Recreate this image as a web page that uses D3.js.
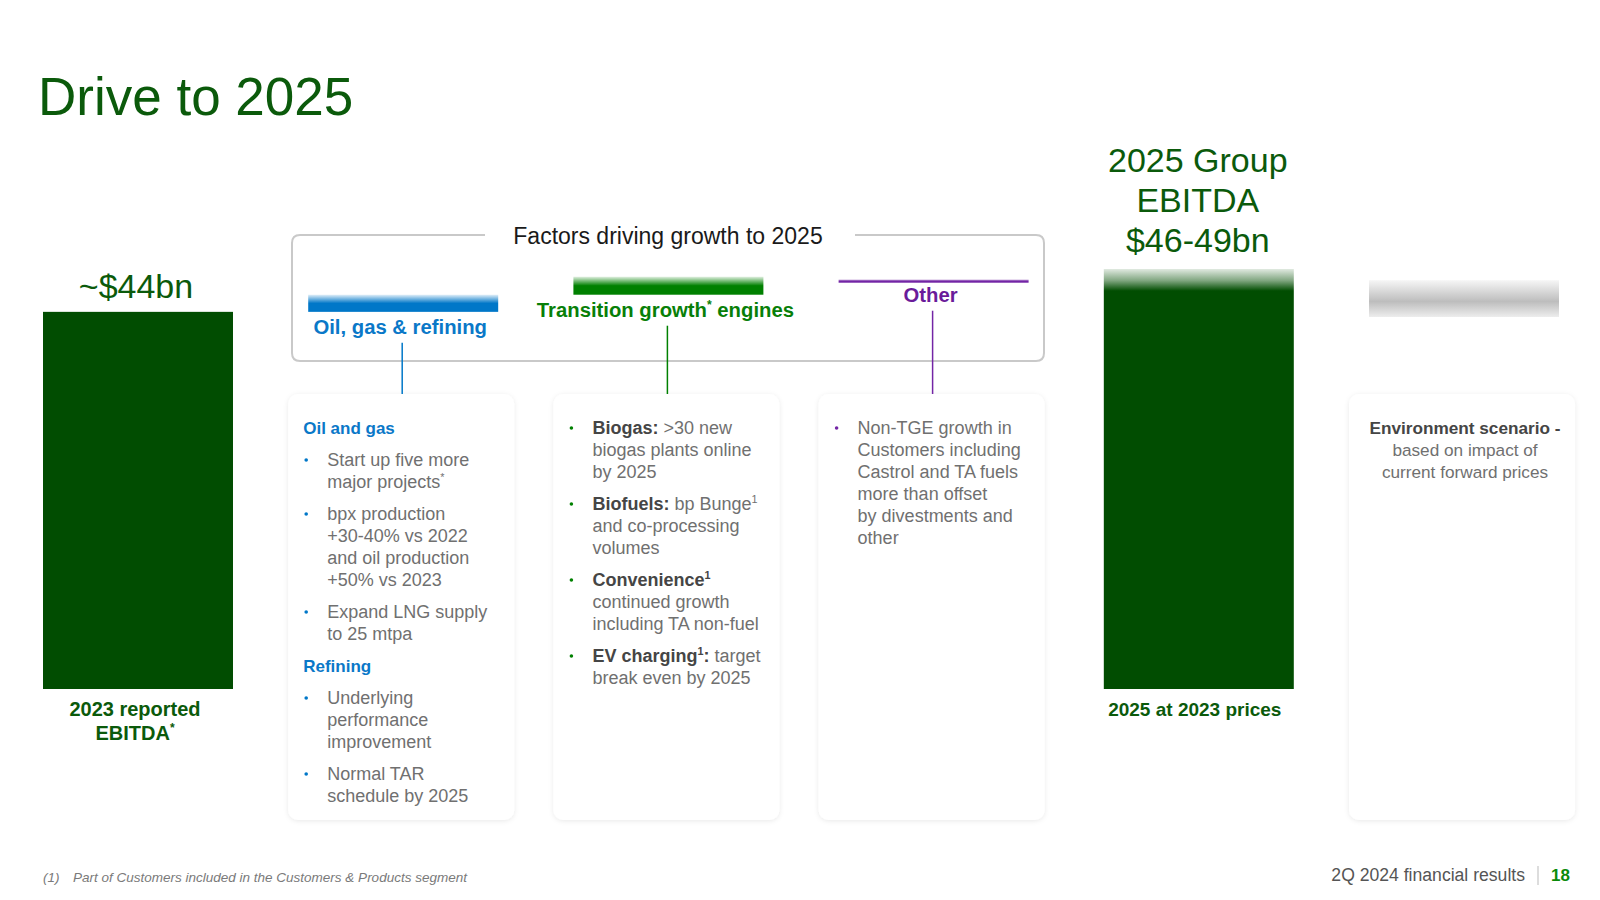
<!DOCTYPE html>
<html>
<head>
<meta charset="utf-8">
<script src="https://cdn.jsdelivr.net/npm/d3@7"></script>
<style>
  html, body { margin: 0; padding: 0; background: #fff; }
  svg text { font-family: "Liberation Sans", Arial, sans-serif; }
</style>
</head>
<body>
<div id="chart"></div>
<script>
// slide columns, left to right
const columns = ["2023", "oilGas", "tge", "other", "2025", "env"];

// EBITDA, $bn
const reported2023 = 44;
const group2025 = [46, 49];
const envScenario = [43.4, 47.7];

// waterfall steps inside the "factors" box, [from, to] in $bn
const factorCols = ["oilGas", "tge", "other"];
const factorNames = ["Oil, gas & refining", "Transition growth^*^ engines", "Other"];
const factorSteps = [[44, 46], [46, 48.1], [47.8, 47.4]];
const factorColors = ["#0077c8", "#008000", "#7325a5"];
const factorTextColors = ["#0a78c8", "#087f08", "#6a1b9a"];

const valueLabel2023 = ["~$44bn"];
const valueLabel2025 = ["2025 Group", "EBITDA", "$46-49bn"];
const barLabel2023 = ["2023 reported", "EBITDA^*^"];
const barLabel2025 = ["2025 at 2023 prices"];

// card texts (** = bold, ^ = superscript)
const cardOilGas = [
  { kind: "head", lines: ["Oil and gas"] },
  { kind: "bullet", lines: ["Start up five more", "major projects^*^"] },
  { kind: "bullet", lines: ["bpx production", "+30-40% vs 2022", "and oil production", "+50% vs 2023"] },
  { kind: "bullet", lines: ["Expand LNG supply", "to 25 mtpa"] },
  { kind: "head", lines: ["Refining"] },
  { kind: "bullet", lines: ["Underlying", "performance", "improvement"] },
  { kind: "bullet", lines: ["Normal TAR", "schedule by 2025"] }
];
const cardTge = [
  { kind: "bullet", lines: ["**Biogas:** >30 new", "biogas plants online", "by 2025"] },
  { kind: "bullet", lines: ["**Biofuels:** bp Bunge^1^", "and co-processing", "volumes"] },
  { kind: "bullet", lines: ["**Convenience^1^**", "continued growth", "including TA non-fuel"] },
  { kind: "bullet", lines: ["**EV charging^1^:** target", "break even by 2025"] }
];
const cardOther = [
  { kind: "bullet", lines: ["Non-TGE growth in", "Customers including", "Castrol and TA fuels", "more than offset", "by divestments and", "other"] }
];
const cardEnv = [
  { kind: "center", lines: ["**Environment scenario -**", "based on impact of", "current forward prices"] }
];

const footnote = ["(1)", "Part of Customers included in the Customers & Products segment"];
const footerText = "2Q 2024 financial results";
const pageNumber = "18";

var width = 1600, height = 900;
var darkGreen = "#014d01", titleGreen = "#0b5a0b";

var svg = d3.select("#chart").append("svg")
  .attr("width", width)
  .attr("height", height);

var defs = svg.append("defs");

var x = d3.scaleBand()
  .domain(columns)
  .range([43, 1559])
  .paddingInner(0.2836)
  .paddingOuter(0);

var y = d3.scaleLinear()
  .domain([0, 49])
  .range([689, 269]);

// writes a line with **bold** and ^sup^ parts as tspans
function richLine(textSel, str, normalColor, boldColor, size) {
  var parts = str.split(/(\*\*.*?\*\*)/).filter(s => s.length);
  var shifted = false;
  parts.forEach(p => {
    var bold = p.startsWith("**");
    var body = bold ? p.slice(2, -2) : p;
    body.split(/(\^.*?\^)/).filter(s => s.length).forEach(q => {
      var sup = q.startsWith("^");
      var t = textSel.append("tspan")
        .attr("font-weight", bold ? "bold" : null)
        .attr("fill", bold ? boldColor : normalColor)
        .text(sup ? q.slice(1, -1) : q);
      if (sup) {
        t.attr("font-size", size * 0.6).attr("dy", -size * 0.38);
        shifted = true;
      } else if (shifted) {
        t.attr("dy", size * 0.38);
        shifted = false;
      }
    });
  });
}

// title
svg.append("text")
  .attr("x", 38).attr("y", 115)
  .attr("font-size", 53)
  .attr("fill", titleGreen)
  .text("Drive to 2025");

// 2023 bar
svg.append("rect")
  .attr("x", x("2023"))
  .attr("y", y(reported2023))
  .attr("width", x.bandwidth())
  .attr("height", y(0) - y(reported2023))
  .attr("fill", darkGreen);

svg.append("text")
  .attr("x", x("2023") + x.bandwidth() / 2 - 2)
  .attr("y", y(reported2023) - 14)
  .attr("text-anchor", "middle")
  .attr("font-size", 34)
  .attr("fill", titleGreen)
  .text(valueLabel2023[0]);

barLabel2023.forEach((l, i) => {
  var t = svg.append("text")
    .attr("x", x("2023") + x.bandwidth() / 2 - 3)
    .attr("y", y(0) + 27 + i * 24)
    .attr("text-anchor", "middle")
    .attr("font-size", 20)
    .attr("font-weight", "bold");
  richLine(t, l, titleGreen, titleGreen, 20);
});

// 2025 bar, fading top shows the range
var g25 = defs.append("linearGradient")
  .attr("id", "fade2025")
  .attr("gradientUnits", "userSpaceOnUse")
  .attr("x1", 0).attr("x2", 0)
  .attr("y1", y(group2025[1])).attr("y2", y(group2025[0]));
g25.append("stop").attr("offset", 0).attr("stop-color", darkGreen).attr("stop-opacity", 0.12);
g25.append("stop").attr("offset", 0.45).attr("stop-color", darkGreen).attr("stop-opacity", 0.5);
g25.append("stop").attr("offset", 0.85).attr("stop-color", darkGreen).attr("stop-opacity", 1);
g25.append("stop").attr("offset", 1).attr("stop-color", darkGreen).attr("stop-opacity", 1);

svg.append("rect")
  .attr("x", x("2025"))
  .attr("y", y(group2025[1]))
  .attr("width", x.bandwidth())
  .attr("height", y(0) - y(group2025[1]))
  .attr("fill", "url(#fade2025)");

valueLabel2025.forEach((l, i) => {
  svg.append("text")
    .attr("x", x("2025") + x.bandwidth() / 2 - 1)
    .attr("y", y(group2025[1]) - 17 - (valueLabel2025.length - 1 - i) * 40)
    .attr("text-anchor", "middle")
    .attr("font-size", 34)
    .attr("fill", titleGreen)
    .text(l);
});

svg.append("text")
  .attr("x", x("2025") + x.bandwidth() / 2 - 4)
  .attr("y", y(0) + 27)
  .attr("text-anchor", "middle")
  .attr("font-size", 19)
  .attr("font-weight", "bold")
  .attr("fill", titleGreen)
  .text(barLabel2025[0]);

// environment scenario band
var gEnv = defs.append("linearGradient")
  .attr("id", "fadeEnv")
  .attr("gradientUnits", "userSpaceOnUse")
  .attr("x1", 0).attr("x2", 0)
  .attr("y1", y(envScenario[1])).attr("y2", y(envScenario[0]));
gEnv.append("stop").attr("offset", 0).attr("stop-color", "#f6f6f6");
gEnv.append("stop").attr("offset", 0.58).attr("stop-color", "#bdbdbd");
gEnv.append("stop").attr("offset", 1).attr("stop-color", "#ededed");

svg.append("rect")
  .attr("x", x("env"))
  .attr("y", y(envScenario[1]))
  .attr("width", x.bandwidth())
  .attr("height", y(envScenario[0]) - y(envScenario[1]))
  .attr("fill", "url(#fadeEnv)");

// factors box with a gap for its heading
var box = { x0: 292, x1: 1044, y0: 235, y1: 361, r: 8 };
svg.append("path")
  .attr("d",
    "M485," + box.y0 +
    " H" + (box.x0 + box.r) +
    " Q" + box.x0 + "," + box.y0 + " " + box.x0 + "," + (box.y0 + box.r) +
    " V" + (box.y1 - box.r) +
    " Q" + box.x0 + "," + box.y1 + " " + (box.x0 + box.r) + "," + box.y1 +
    " H" + (box.x1 - box.r) +
    " Q" + box.x1 + "," + box.y1 + " " + box.x1 + "," + (box.y1 - box.r) +
    " V" + (box.y0 + box.r) +
    " Q" + box.x1 + "," + box.y0 + " " + (box.x1 - box.r) + "," + box.y0 +
    " H855")
  .attr("fill", "none")
  .attr("stroke", "#c9c9c9")
  .attr("stroke-width", 2);

svg.append("text")
  .attr("x", 668).attr("y", 244)
  .attr("text-anchor", "middle")
  .attr("font-size", 23)
  .attr("fill", "#1a1a1a")
  .text("Factors driving growth to 2025");

// cards
var shadow = defs.append("filter").attr("id", "cardShadow")
  .attr("x", "-10%").attr("y", "-10%").attr("width", "120%").attr("height", "120%");
shadow.append("feDropShadow")
  .attr("dx", 0).attr("dy", 1)
  .attr("stdDeviation", 2.5)
  .attr("flood-color", "#000")
  .attr("flood-opacity", 0.09);

var cardCols = ["oilGas", "tge", "other", "env"];
svg.selectAll(".card")
  .data(cardCols)
  .enter().append("rect")
    .attr("class", "card")
    .attr("x", d => x(d) - 20)
    .attr("y", 394)
    .attr("width", 226)
    .attr("height", 426)
    .attr("rx", 10)
    .attr("fill", "#fff")
    .attr("filter", "url(#cardShadow)");

// factor steps, labels and connectors
factorCols.forEach((c, i) => {
  var lo = Math.min(factorSteps[i][0], factorSteps[i][1]);
  var hi = Math.max(factorSteps[i][0], factorSteps[i][1]);
  var col = factorColors[i];
  var gid = "fade" + c;
  var gr = defs.append("linearGradient")
    .attr("id", gid)
    .attr("gradientUnits", "userSpaceOnUse")
    .attr("x1", 0).attr("x2", 0)
    .attr("y1", y(hi)).attr("y2", y(lo));
  gr.append("stop").attr("offset", 0).attr("stop-color", col).attr("stop-opacity", 0.12);
  gr.append("stop").attr("offset", 0.5).attr("stop-color", col).attr("stop-opacity", 1);
  gr.append("stop").attr("offset", 1).attr("stop-color", col).attr("stop-opacity", 1);

  svg.append("rect")
    .attr("x", x(c))
    .attr("y", y(hi))
    .attr("width", x.bandwidth())
    .attr("height", y(lo) - y(hi))
    .attr("fill", "url(#" + gid + ")");

  var cx = x(c) + x.bandwidth() / 2 - 1;
  var base = y(lo) + (hi - lo < 1 ? 19 : 22);
  var t = svg.append("text")
    .attr("x", cx - 2).attr("y", base)
    .attr("text-anchor", "middle")
    .attr("font-size", 20.3)
    .attr("font-weight", "bold");
  richLine(t, factorNames[i], factorTextColors[i], factorTextColors[i], 20.3);

  svg.append("line")
    .attr("x1", cx).attr("x2", cx)
    .attr("y1", base + 9).attr("y2", 394)
    .attr("stroke", col)
    .attr("stroke-width", 1.5);
});

// card text
function drawCard(col, blocks, dotColor) {
  var left = x(col) - 20;
  var yy = 434;
  blocks.forEach((b, bi) => {
    b.lines.forEach((l, li) => {
      if (b.kind === "head") {
        svg.append("text")
          .attr("x", left + 15).attr("y", yy)
          .attr("font-size", 17)
          .attr("font-weight", "bold")
          .attr("fill", "#0a78c8")
          .text(l);
      } else {
        if (b.kind === "bullet" && li === 0) {
          svg.append("circle")
            .attr("cx", left + 18).attr("cy", yy - 6)
            .attr("r", 1.8)
            .attr("fill", dotColor);
        }
        var center = b.kind === "center";
        var t = svg.append("text")
          .attr("x", center ? left + 116 : left + 39)
          .attr("y", yy)
          .attr("text-anchor", center ? "middle" : "start")
          .attr("font-size", center ? 17.2 : 18);
        richLine(t, l, "#707070", "#454545", center ? 17.2 : 18);
      }
      yy += 22;
    });
    yy += 10;
  });
}

drawCard("oilGas", cardOilGas, "#0077c8");
drawCard("tge", cardTge, "#008000");
drawCard("other", cardOther, "#7325a5");
drawCard("env", cardEnv, "#999");

// footer
svg.append("text")
  .attr("x", 43).attr("y", 882)
  .attr("font-size", 13.5)
  .attr("font-style", "italic")
  .attr("fill", "#7a7a7a")
  .text(footnote[0]);
svg.append("text")
  .attr("x", 73).attr("y", 882)
  .attr("font-size", 13.5)
  .attr("font-style", "italic")
  .attr("fill", "#7a7a7a")
  .text(footnote[1]);

svg.append("text")
  .attr("x", 1525).attr("y", 881)
  .attr("text-anchor", "end")
  .attr("font-size", 17.6)
  .attr("fill", "#555")
  .text(footerText);

svg.append("line")
  .attr("x1", 1538).attr("x2", 1538)
  .attr("y1", 866).attr("y2", 885)
  .attr("stroke", "#bbb")
  .attr("stroke-width", 1);

svg.append("text")
  .attr("x", 1551).attr("y", 881)
  .attr("font-size", 17)
  .attr("font-weight", "bold")
  .attr("fill", "#0a8a0a")
  .text(pageNumber);
</script>
</body>
</html>
